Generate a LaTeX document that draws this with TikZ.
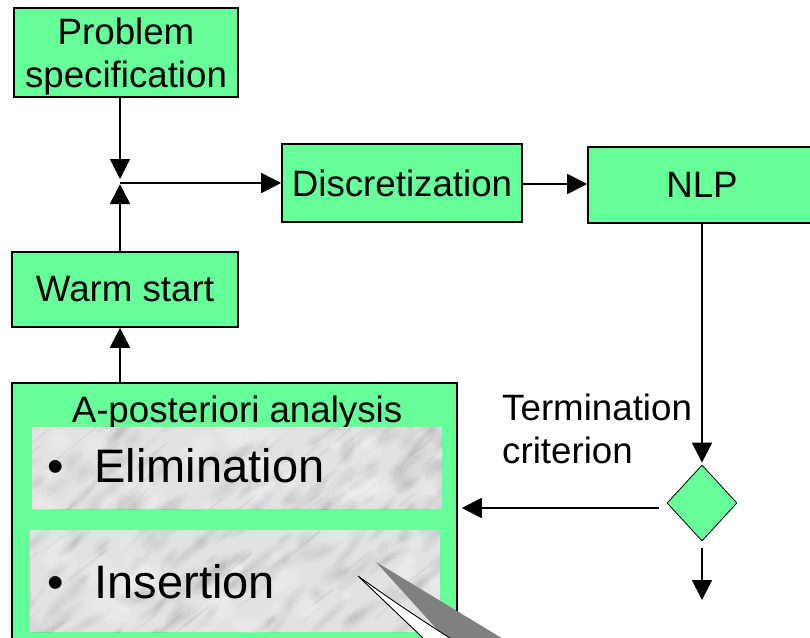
\documentclass[tikz,border=0pt]{standalone}
\usepackage{fontspec}
\setmainfont{Liberation Sans}
\usetikzlibrary{arrows.meta,shapes.geometric}

\definecolor{boxgreen}{HTML}{66FF99}
\definecolor{marble}{HTML}{E2E2E4}
\definecolor{streak}{HTML}{606062}
\definecolor{shadowgray}{HTML}{808080}

\newcommand\mainfs{\fontsize{36.7}{42.5}\selectfont}
\newcommand\itemfs{\fontsize{47}{54}\selectfont}

% Soft grey clouds and veins that give a marble look to a rectangle
\newcommand\marblestreaks[4]{%
  \begin{scope}
    \clip (#1,#2) rectangle (#3,#4);
    \foreach \k in {1,...,90}{
      \pgfmathsetmacro\sx{#1-20+rnd*(#3-#1+40)}
      \pgfmathsetmacro\sy{#2-10+rnd*(#4-#2+20)}
      \pgfmathsetmacro\rx{8+rnd*22}
      \pgfmathsetmacro\ry{3+rnd*6}
      \pgfmathsetmacro\ra{25+rnd*30}
      \begin{scope}[rotate around={\ra:(\sx,\sy)}]
        \fill[streak, opacity=0.04] (\sx,\sy) ellipse[x radius=\rx pt, y radius=\ry pt];
        \fill[streak, opacity=0.04] (\sx,\sy) ellipse[x radius=0.7*\rx pt, y radius=0.6*\ry pt];
        \fill[streak, opacity=0.04] (\sx,\sy) ellipse[x radius=0.4*\rx pt, y radius=0.3*\ry pt];
      \end{scope}
    }
    \foreach \k in {1,...,40}{
      \pgfmathsetmacro\sx{#1-30+rnd*(#3-#1+30)}
      \pgfmathsetmacro\sy{#2+rnd*(#4-#2+20)}
      \pgfmathsetmacro\sl{10+rnd*30}
      \pgfmathsetmacro\sw{1+rnd*2}
      \pgfmathsetmacro\so{0.03+rnd*0.06}
      \draw[line width=\sw pt, line cap=round, draw=streak, opacity=\so]
        (\sx,\sy) -- ++(\sl,-0.8*\sl);
    }
    \foreach \k in {1,...,40}{
      \pgfmathsetmacro\sx{#1+rnd*(#3-#1)}
      \pgfmathsetmacro\sy{#2+rnd*(#4-#2)}
      \pgfmathsetmacro\sr{5+rnd*12}
      \fill[white, opacity=0.12] (\sx,\sy) circle[radius=\sr pt];
      \fill[white, opacity=0.12] (\sx,\sy) circle[radius=0.6*\sr pt];
    }
  \end{scope}
}

\tikzset{
  stage/.style={draw=black, line width=1.6pt, fill=boxgreen, inner sep=0pt,
    align=center, font=\mainfs},
  marblebox/.style={fill=marble, draw=none, inner sep=0pt},
  lbl/.style={font=\mainfs, inner sep=0pt},
  itemtext/.style={font=\itemfs, inner sep=0pt, anchor=base west},
  decision/.style={diamond, draw=black, line width=0.8pt, fill=boxgreen,
    minimum width=70pt, minimum height=76pt, inner sep=0pt, shape aspect=0.92},
  flow/.style={line width=1.8pt, -{Triangle[length=20pt,width=20pt]}},
}

\begin{document}
\begin{tikzpicture}[x=1pt,y=-1pt]
\useasboundingbox (0,0) rectangle (810,637);
\clip (0,0) rectangle (810,637);

% flow stages
\node[stage, minimum width=224pt, minimum height=89pt] (spec) at (126,52.5) {\rule{0pt}{35pt}Problem\\specification};
\node[stage, minimum width=240pt, minimum height=78pt] (disc) at (402,183) {Discretization};
\node[stage, minimum width=228pt, minimum height=76pt] (nlp) at (702,185) {NLP};
\node[stage, minimum width=226pt, minimum height=75pt] (warm) at (125,289.5) {Warm start};

% analysis block
\node[stage, minimum width=445pt, minimum height=300pt, anchor=north] (post) at (234.5,382) {};
\node[lbl, anchor=base] (posttitle) at (237,422) {A-posteriori analysis};

\node[marblebox, minimum width=410pt, minimum height=82pt] (elim) at (237,468) {};
\node[marblebox, minimum width=410pt, minimum height=102pt] (ins) at (235,581) {};
\pgfmathsetseed{4711}
\marblestreaks{32}{427}{442}{509}
\marblestreaks{30}{530}{440}{632}

\node[itemtext] (elimtext) at (47,482) {\textbullet\hspace{31pt}Elimination};
\node[itemtext] (instext) at (47,598) {\textbullet\hspace{31pt}Insertion};

% callout pointer with its shadow
\fill[shadowgray] (376,562) -- (571,680) -- (483,680) -- cycle;
\filldraw[fill=white, draw=black, line width=0.9pt]
  (358,576) -- (467,680) -- (518,680) .. controls (458,644) and (408,612) .. cycle;

% termination test
\node[lbl, anchor=north west, align=left] (term) at (502,394) {Termination\\criterion};
\node[decision] (dia) at (702,503) {};

\coordinate (junc) at (120,183);
\coordinate (exit) at (702,600);

% connectors
\draw[flow, shorten >=4pt] (spec.south -| junc) -- (junc);
\draw[flow, shorten >=1pt] (warm.north -| junc) -- (junc);
\draw[flow] (junc) -- (disc.west);
\draw[flow] ([yshift=-1pt]disc.east) -- ([yshift=-1pt]disc.east -| nlp.west);
\draw[flow, shorten >=2pt] (nlp.south) -- (dia.north);
\draw[flow, shorten <=8pt, shorten >=4pt] ([yshift=-5pt]dia.west) -- ([yshift=-5pt]dia.west -| post.east);
\draw[flow, shorten <=7pt] (dia.south) -- (exit);
\draw[flow] (post.north -| junc) -- (warm.south -| junc);
\end{tikzpicture}
\end{document}
